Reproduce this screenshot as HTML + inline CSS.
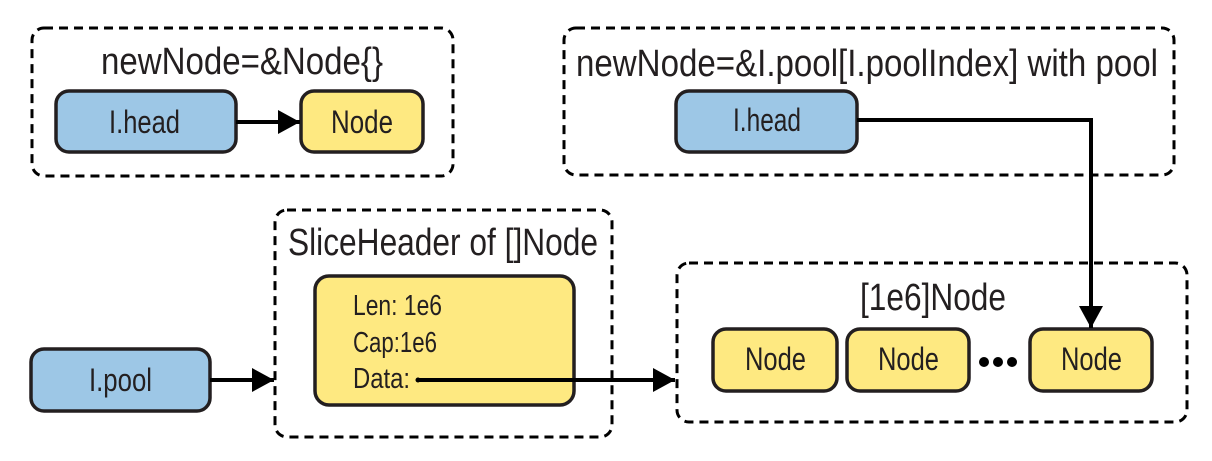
<!DOCTYPE html>
<html><head><meta charset="utf-8"><style>
html,body{margin:0;padding:0;background:#fff;width:1212px;height:461px;overflow:hidden}
text{font-family:"Liberation Sans",sans-serif;fill:#231f20}
</style></head><body>
<svg width="1212" height="461" viewBox="0 0 1212 461" xmlns="http://www.w3.org/2000/svg">
<defs>
<marker id="b" viewBox="0 0 22 24" markerWidth="22" markerHeight="24" refX="22" refY="12" orient="auto" markerUnits="userSpaceOnUse"><path d="M0,0 L22,12 L0,24 z" fill="#000"/></marker></defs>
<g fill="none" stroke="#000" stroke-width="3" stroke-dasharray="9,6">
<rect x="32" y="28" width="421" height="148" rx="12"/>
<rect x="564" y="28" width="610" height="147" rx="12"/>
<rect x="275" y="210" width="337" height="227" rx="12"/>
<rect x="677" y="263" width="510" height="159" rx="12"/>
</g>
<g stroke="#231f20" stroke-width="3.5">
<rect x="56" y="91" width="180" height="61" rx="13" fill="#9dc7e6"/>
<rect x="301" y="91" width="122" height="61" rx="13" fill="#fee981"/>
<rect x="676" y="91" width="181" height="61" rx="13" fill="#9dc7e6"/>
<rect x="31" y="349" width="179" height="62" rx="13" fill="#9dc7e6"/>
<rect x="315" y="276" width="259" height="129" rx="14" fill="#fee981"/>
<rect x="713" y="329" width="124" height="62" rx="13" fill="#fee981"/>
<rect x="847" y="329" width="122" height="62" rx="13" fill="#fee981"/>
<rect x="1030" y="329" width="122" height="62" rx="13" fill="#fee981"/>
</g>
<g stroke="#000" stroke-width="4" fill="none">
<line x1="236" y1="122" x2="300" y2="122" marker-end="url(#b)"/>
<polyline points="857,120 1091,120 1091,328" marker-end="url(#b)"/>
<line x1="210" y1="380" x2="274" y2="380" marker-end="url(#b)"/>
<line x1="417" y1="380" x2="675" y2="380" marker-end="url(#b)"/>
</g>
<circle cx="418" cy="380" r="2.5" fill="#000"/>
<g fill="#000"><circle cx="984" cy="362" r="5"/><circle cx="998" cy="362" r="5"/><circle cx="1012" cy="362" r="5"/></g>
<g font-size="38">
<text x="101" y="74" textLength="282" lengthAdjust="spacingAndGlyphs">newNode=&amp;Node{}</text>
<text x="576" y="76" textLength="582" lengthAdjust="spacingAndGlyphs">newNode=&amp;I.pool[I.poolIndex] with pool</text>
<text x="288" y="255" textLength="310" lengthAdjust="spacingAndGlyphs">SliceHeader of []Node</text>
<text x="860" y="310" textLength="146" lengthAdjust="spacingAndGlyphs">[1e6]Node</text>
</g>
<g font-size="32">
<text x="109" y="133" textLength="71" lengthAdjust="spacingAndGlyphs">I.head</text>
<text x="331" y="133" textLength="62" lengthAdjust="spacingAndGlyphs">Node</text>
<text x="733" y="131" textLength="68" lengthAdjust="spacingAndGlyphs">I.head</text>
<text x="89" y="391" textLength="63" lengthAdjust="spacingAndGlyphs">I.pool</text>
<text x="745" y="370" textLength="61" lengthAdjust="spacingAndGlyphs">Node</text>
<text x="878" y="370" textLength="61" lengthAdjust="spacingAndGlyphs">Node</text>
<text x="1061" y="370" textLength="61" lengthAdjust="spacingAndGlyphs">Node</text>
</g>
<g font-size="29">
<text x="353" y="315" textLength="89" lengthAdjust="spacingAndGlyphs">Len: 1e6</text>
<text x="353" y="352" textLength="84" lengthAdjust="spacingAndGlyphs">Cap:1e6</text>
<text x="353" y="388" textLength="57" lengthAdjust="spacingAndGlyphs">Data:</text>
</g>
</svg>
</body></html>
